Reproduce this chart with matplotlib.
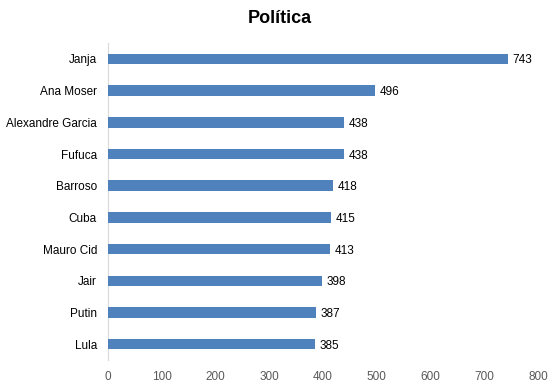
import matplotlib
matplotlib.use("Agg")
import matplotlib.pyplot as plt
import numpy as np

plt.rcParams['font.family'] = ['Liberation Sans', 'DejaVu Sans']

names = ["Janja", "Ana Moser", "Alexandre Garcia", "Fufuca", "Barroso",
         "Cuba", "Mauro Cid", "Jair", "Putin", "Lula"]
counts = [743, 496, 438, 438, 418, 415, 413, 398, 387, 385]

fig = plt.figure(figsize=(5.6, 3.88), dpi=100)
ax = fig.add_axes([0.193, 0.072, 0.768, 0.817])

y = np.arange(len(names))
ax.barh(y, counts, height=0.33, color="#4F81BD", zorder=3)
for yi, v in zip(y, counts):
    ax.text(v + 9, yi, str(v), va="center_baseline", ha="left", fontsize=8.5, color="black")

ax.set_ylim(len(names) - 0.5, -0.5)
ax.set_yticks(y)
ax.set_yticklabels(names, fontsize=8.5, color="black")
ax.set_xlim(0, 800)
ax.set_xticks(np.arange(0, 801, 100))
ax.tick_params(axis="x", labelsize=8.5, labelcolor="#595959", length=0, pad=8)
ax.tick_params(axis="y", length=0, pad=8)

for s in ["top", "right", "bottom"]:
    ax.spines[s].set_visible(False)
ax.spines["left"].set_color("#D9D9D9")

fig.suptitle("Política", fontsize=13, fontweight="bold", y=0.975)

fig.savefig("out.png", dpi=100)
